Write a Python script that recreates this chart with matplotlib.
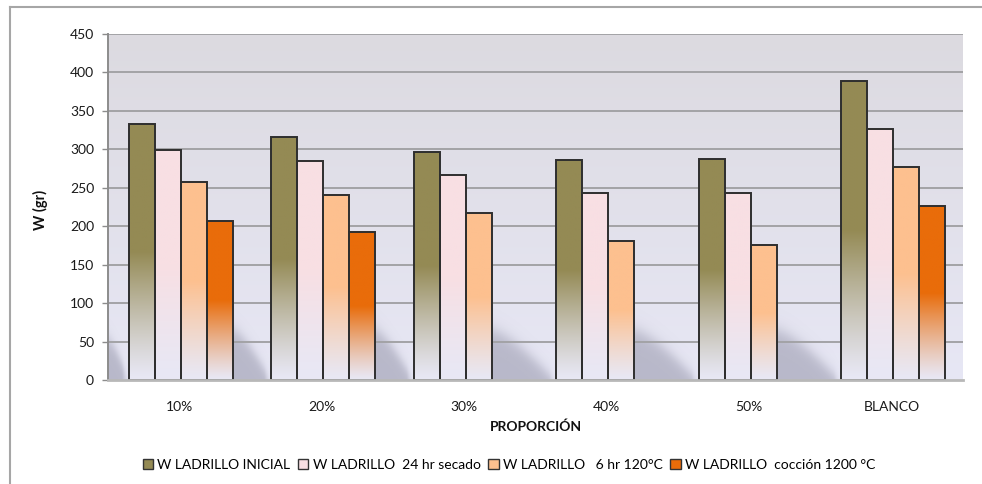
import numpy as np
import matplotlib
matplotlib.use("Agg")
import matplotlib.pyplot as plt
from matplotlib.colors import to_rgb
from matplotlib.lines import Line2D
from matplotlib.patches import Patch

plt.rcParams['font.family'] = ['Lato', 'DejaVu Sans']

# ---- data -------------------------------------------------------------
categories = ["10%", "20%", "30%", "40%", "50%", "BLANCO"]
series_names = [
    "W LADRILLO INICIAL",
    "W LADRILLO  24 hr secado",
    "W LADRILLO   6 hr 120°C",
    "W LADRILLO  cocción 1200 °C",
]
w_inicial = [333, 316, 297, 286, 287, 389]
w_secado = [299, 285, 267, 243, 243, 326]
w_120 = [258, 241, 217, 181, 175, 277]
w_coccion = [207, 192, None, None, None, 226]
y_ticks = [0, 50, 100, 150, 200, 250, 300, 350, 400, 450]

series_values = [w_inicial, w_secado, w_120, w_coccion]
series_colors = ["#948a54", "#f8dfe3", "#fdc08f", "#e96c0a"]

# ---- styling ------------------------------------------------------------
W, H, DPI = 982, 484, 100
fig = plt.figure(figsize=(W / DPI, H / DPI), dpi=DPI)
fig.patch.set_facecolor("white")

ax_l, ax_r, ax_t, ax_b = 108, 963, 34, 380
ax = fig.add_axes([ax_l / W, 1 - ax_b / H, (ax_r - ax_l) / W, (ax_b - ax_t) / H])

xmin, xmax = -0.5, len(categories) - 0.5
ymin, ymax = 0, 450
bar_w = 0.182
offsets = (np.arange(4) - 1.5) * bar_w + 0.01
x = np.arange(len(categories))

fade_col = np.array(to_rgb("#e8e8f5"))

# plot-area background: soft grey at the top, pale lavender at the bottom
top_bg = np.array(to_rgb("#dcdae0"))
bot_bg = np.array(to_rgb("#e7e7f5"))
t = np.linspace(0, 1, 256)[:, None]
bg = (bot_bg * (1 - t) + top_bg * t)[:, None, :]
ax.imshow(bg, extent=[xmin, xmax, ymin, ymax], origin="lower",
          aspect="auto", zorder=0, interpolation="bilinear")

# soft floor shadows in the gaps between groups
nx, ny = 900, 300
gx = np.linspace(xmin, xmax, nx)
gy = np.linspace(ymin, ymax, ny)
GX, GY = np.meshgrid(gx, gy)
alpha = np.zeros_like(GX)
gaps = [(xmin, x[0] + offsets[0] - bar_w / 2, 55)]
for i in range(len(categories) - 1):
    last = max(k for k in range(4) if series_values[k][i] is not None)
    xs = x[i] + offsets[last] + bar_w / 2
    xe = x[i + 1] + offsets[0] - bar_w / 2
    gaps.append((xs, xe, 68))
for xs, xe, h0 in gaps:
    inside = (GX >= xs) & (GX <= xe)
    frac = np.clip((GX - xs) / (xe - xs), 0, 1)
    edge = h0 * (1 - frac ** 1.4)
    a = 1 / (1 + np.exp(-(edge - 4 - GY) / 6.0))
    a *= np.clip((xe - GX) / 0.05, 0, 1)
    alpha = np.where(inside, np.maximum(alpha, a * 0.6), alpha)
shadow = np.zeros((ny, nx, 4))
shadow[..., :3] = to_rgb("#9a9aae")
shadow[..., 3] = alpha
ax.imshow(shadow, extent=[xmin, xmax, ymin, ymax], origin="lower",
          aspect="auto", zorder=0.5, interpolation="bilinear")

# horizontal grid
for v in y_ticks[1:]:
    ax.axhline(v, color="#a3a3a6", lw=1.4, zorder=1)

# bars: solid colour in the upper half, fading to pale at the base
for k, (vals, col) in enumerate(zip(series_values, series_colors)):
    c = np.array(to_rgb(col))
    for i, v in enumerate(vals):
        if v is None:
            continue
        left = x[i] + offsets[k] - bar_w / 2
        rect = ax.bar(x[i] + offsets[k], v, width=bar_w, facecolor="none",
                      edgecolor="#2e2e2e", linewidth=1.4, zorder=3)[0]
        s = np.linspace(0, 1, 200)[:, None]
        m = np.clip(s / 0.5, 0, 1) ** 1.2
        grad = (fade_col * (1 - m) + c * m)[:, None, :]
        im = ax.imshow(grad, extent=[left, left + bar_w, 0, v], origin="lower",
                       aspect="auto", zorder=2.5, interpolation="bilinear")
        im.set_clip_path(rect)

ax.set_xlim(xmin, xmax)
ax.set_ylim(ymin, ymax)

ax.set_yticks(y_ticks)
ax.set_xticks(x)
ax.set_xticklabels(categories)
ax.tick_params(axis="y", direction="out", length=4, width=1, color="#8c8c8c",
               labelsize=10, pad=6, labelcolor="#1a1a1a")
ax.tick_params(axis="x", length=0, labelsize=10, pad=15, labelcolor="#1a1a1a")

for side in ("top", "right"):
    ax.spines[side].set_visible(False)
ax.spines["left"].set_color("#8c8c8c")
ax.spines["left"].set_linewidth(1.4)
ax.spines["bottom"].set_color("#b8b8b8")
ax.spines["bottom"].set_linewidth(2.0)
ax.spines["left"].set_zorder(4)
ax.spines["bottom"].set_zorder(4)

fig.text(40 / W, 1 - 210 / H, "W (gr)", rotation=90, ha="center", va="center",
         fontsize=10.5, fontweight="bold", color="#111111")
fig.text((ax_l + ax_r) / 2 / W, 1 - 427 / H, "PROPORCIÓN", ha="center",
         va="center", fontsize=10, fontweight="bold", color="#111111")

handles = [Patch(facecolor=c, edgecolor="#333333", linewidth=1.0)
           for c in series_colors]
fig.legend(handles, series_names, loc="center", ncol=4, frameon=False,
           bbox_to_anchor=(509 / W, 1 - 465 / H), fontsize=10,
           handlelength=0.75, handleheight=0.75, handletextpad=0.3,
           columnspacing=0.55)

# outer chart frame
fig.add_artist(Line2D([9.5 / W, 9.5 / W], [0, 1 - 7 / H], transform=fig.transFigure,
                      color="#a6a6a6", lw=1.5))
fig.add_artist(Line2D([9.5 / W, 1], [1 - 7 / H, 1 - 7 / H], transform=fig.transFigure,
                      color="#a6a6a6", lw=1.5))

fig.savefig("out.png", dpi=DPI)
